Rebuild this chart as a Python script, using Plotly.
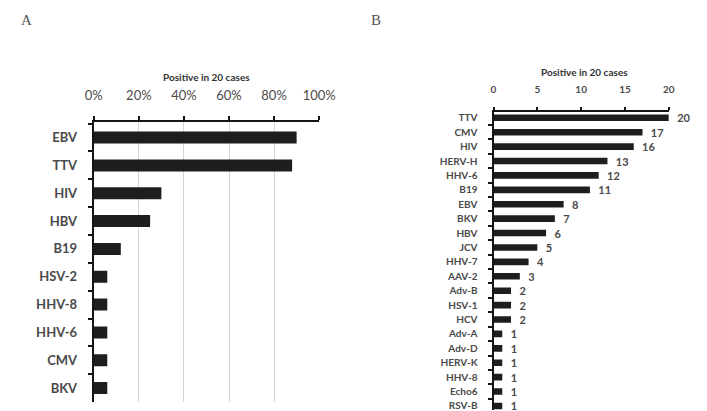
import plotly.graph_objects as go

# Panel A: percentage positive among 20 cases
a_viruses = ["EBV", "TTV", "HIV", "HBV", "B19", "HSV-2", "HHV-8", "HHV-6", "CMV", "BKV"]
a_pct = [90, 88, 30, 25, 12, 6, 6, 6, 6, 6]
a_ticks = [0, 20, 40, 60, 80, 100]
a_ticktext = ["0%", "20%", "40%", "60%", "80%", "100%"]

# Panel B: number of positive cases among 20
b_viruses = ["TTV", "CMV", "HIV", "HERV-H", "HHV-6", "B19", "EBV", "BKV", "HBV", "JCV",
             "HHV-7", "AAV-2", "Adv-B", "HSV-1", "HCV", "Adv-A", "Adv-D", "HERV-K",
             "HHV-8", "Echo6", "RSV-B"]
b_counts = [20, 17, 16, 13, 12, 11, 8, 7, 6, 5, 4, 3, 2, 2, 2, 1, 1, 1, 1, 1, 1]
b_ticks = [0, 5, 10, 15, 20]

W, H = 707, 411
BAR = "#1e1e1e"
LBL = "#4a4a4a"
LINE = "#151515"
FONT = "Lato"


def px(x):
    return x / W


def py(y):
    return 1 - y / H


fig = go.Figure()

fig.add_trace(go.Bar(
    x=a_pct, y=a_viruses, orientation="h", width=0.43,
    marker=dict(color=BAR, line=dict(width=0)),
    xaxis="x", yaxis="y", showlegend=False, hoverinfo="x+y",
))

fig.add_trace(go.Bar(
    x=b_counts, y=b_viruses, orientation="h", width=0.46,
    marker=dict(color=BAR, line=dict(width=0)),
    text=[f"  {v}" for v in b_counts], textposition="outside",
    constraintext="none",
    textfont=dict(family=FONT, size=11, color=LBL, weight="bold"),
    cliponaxis=False,
    xaxis="x2", yaxis="y2", showlegend=False, hoverinfo="x+y",
))

fig.update_layout(
    width=W, height=H,
    margin=dict(l=0, r=0, t=0, b=0),
    paper_bgcolor="white", plot_bgcolor="white",
    font=dict(family=FONT, color=LBL),
    xaxis=dict(
        domain=[px(88), px(322)], anchor="y", side="top",
        range=[0, 100], tickvals=a_ticks, ticktext=a_ticktext,
        showline=True, linecolor=LINE, linewidth=2, zeroline=False,
        ticks="outside", ticklen=4, tickcolor=LINE, tickwidth=1.5,
        showgrid=True, gridcolor="#d6d6d6", gridwidth=1,
        tickfont=dict(size=13, color=LBL), ticklabelstandoff=11,
    ),
    yaxis=dict(
        domain=[py(403), py(122)], anchor="x",
        categoryorder="array", categoryarray=a_viruses,
        range=[9.5, -0.57], tickson="boundaries",
        showline=True, linecolor=LINE, linewidth=2, zeroline=False,
        ticks="outside", ticklen=4, tickcolor=LINE, tickwidth=1.5,
        showgrid=False, tickfont=dict(size=13, color=LBL, weight="bold"),
        ticklabelstandoff=12,
    ),
    xaxis2=dict(
        domain=[px(503), px(685)], anchor="y2", side="top",
        range=[0, 20], tickvals=b_ticks,
        showline=True, linecolor=LINE, linewidth=2, zeroline=False,
        ticks="outside", ticklen=3, tickcolor=LINE, tickwidth=1.5,
        showgrid=False,
        tickfont=dict(size=10, color=LBL, weight="bold"), ticklabelstandoff=10,
    ),
    yaxis2=dict(
        domain=[0, py(112)], anchor="x2",
        categoryorder="array", categoryarray=b_viruses,
        range=[20.28, -0.42], tickson="boundaries",
        showline=True, linecolor=LINE, linewidth=2, zeroline=False,
        ticks="outside", ticklen=4, tickcolor=LINE, tickwidth=1.5,
        showgrid=False, tickfont=dict(size=10, color=LBL, weight="bold"),
        ticklabelstandoff=12,
    ),
    bargap=0.5,
    annotations=[
        dict(text="A", x=px(18), y=py(20), xref="paper", yref="paper",
             showarrow=False, xanchor="center", yanchor="middle",
             font=dict(family="Liberation Serif", size=15, color="#555")),
        dict(text="B", x=px(381), y=py(20), xref="paper", yref="paper",
             showarrow=False, xanchor="center", yanchor="middle",
             font=dict(family="Liberation Serif", size=15, color="#555")),
        dict(text="Positive in 20 cases", x=px(205), y=py(77), xref="paper", yref="paper",
             showarrow=False, xanchor="center", yanchor="middle",
             font=dict(family=FONT, size=10, color="#333", weight="bold")),
        dict(text="Positive in 20 cases", x=px(597), y=py(72), xref="paper", yref="paper",
             showarrow=False, xanchor="center", yanchor="middle",
             font=dict(family=FONT, size=10, color="#333", weight="bold")),
    ],
)

fig.write_html("out.html")
